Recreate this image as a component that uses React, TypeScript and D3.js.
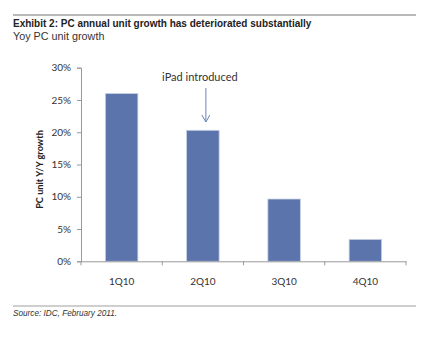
import React, { useEffect, useRef } from "react";
import * as d3 from "d3";

const quarters = ["1Q10", "2Q10", "3Q10", "4Q10"];
const growth = [26.0, 20.3, 9.65, 3.4];
const yTicks = [0, 5, 10, 15, 20, 25, 30];

const W = 427;
const H = 351;

export default function App() {
  const svgRef = useRef<SVGSVGElement>(null);

  useEffect(() => {
    const svg = d3.select(svgRef.current);
    svg.selectAll("*").remove();

    const left = 81;
    const right = 406;
    const top = 67.7;
    const bottom = 261.3;

    const x = d3.scaleBand().domain(quarters).range([left, right]).paddingInner(0.6).paddingOuter(0.3);
    const y = d3.scaleLinear().domain([0, 30]).range([bottom, top]);

    // header rules and titles
    svg.append("line").attr("x1", 13).attr("x2", 416).attr("y1", 15).attr("y2", 15)
      .attr("stroke", "#a0a0a0").attr("stroke-width", 1.5);
    svg.append("text").attr("x", 13).attr("y", 27)
      .attr("font-family", "Liberation Sans, Arial, sans-serif").attr("font-weight", "bold")
      .attr("font-size", 10).attr("fill", "#222")
      .text("Exhibit 2: PC annual unit growth has deteriorated substantially");
    svg.append("text").attr("x", 13).attr("y", 40)
      .attr("font-family", "Liberation Sans, Arial, sans-serif")
      .attr("font-size", 10.8).attr("fill", "#333")
      .text("Yoy PC unit growth");

    // bars
    svg.append("g").selectAll("rect").data(growth).join("rect")
      .attr("x", (_d, i) => x(quarters[i])!)
      .attr("width", x.bandwidth())
      .attr("y", (d) => y(d))
      .attr("height", (d) => bottom - y(d))
      .attr("fill", "#5b74ab")
      .attr("stroke", "#c7d1e6").attr("stroke-width", 0.8);

    // y axis
    const gy = svg.append("g").attr("transform", `translate(${left},0)`)
      .call(d3.axisLeft(y).tickValues(yTicks).tickSize(4).tickFormat((d) => `${d}%`));
    gy.select(".domain").attr("stroke", "#999");
    gy.selectAll(".tick line").attr("stroke", "#999");
    gy.selectAll(".tick text").attr("font-family", "Lato, sans-serif").attr("font-size", 10)
      .attr("fill", "#333").attr("x", -10);

    // x axis
    const gx = svg.append("g").attr("transform", `translate(0,${bottom})`)
      .call(d3.axisBottom(x).tickSize(0).tickSizeOuter(0));
    gx.select(".domain").attr("stroke", "#999");
    gx.selectAll(".tick text").attr("font-family", "Lato, sans-serif").attr("font-size", 10)
      .attr("fill", "#333").attr("dy", "0").attr("y", 24);
    const step = x.step();
    const edges = d3.range(quarters.length + 1).map((i) => left + i * step);
    gx.selectAll(".sep").data(edges).join("line").attr("class", "sep")
      .attr("x1", (d) => d).attr("x2", (d) => d).attr("y1", 0).attr("y2", 4)
      .attr("stroke", "#999");

    // y axis title
    svg.append("text")
      .attr("transform", `translate(43,${(top + bottom) / 2 + 5}) rotate(-90)`)
      .attr("text-anchor", "middle")
      .attr("font-family", "Lato, sans-serif").attr("font-weight", "bold")
      .attr("font-size", 9.2).attr("fill", "#222")
      .text("PC unit Y/Y growth");

    // annotation
    const ax = x("2Q10")! + x.bandwidth() / 2 + 3;
    svg.append("text").attr("x", ax - 6).attr("y", 81).attr("text-anchor", "middle")
      .attr("font-family", "Lato, sans-serif").attr("font-size", 11).attr("fill", "#333")
      .text("iPad introduced");
    svg.append("line").attr("x1", ax).attr("x2", ax).attr("y1", 88).attr("y2", 122)
      .attr("stroke", "#6b84b8").attr("stroke-width", 1);
    svg.append("path").attr("d", `M${ax - 4},${115} L${ax},${122} L${ax + 4},${115}`)
      .attr("fill", "none").attr("stroke", "#6b84b8").attr("stroke-width", 1);

    // footer
    svg.append("line").attr("x1", 13).attr("x2", 416).attr("y1", 306).attr("y2", 306)
      .attr("stroke", "#a0a0a0").attr("stroke-width", 1.2);
    svg.append("text").attr("x", 13).attr("y", 316)
      .attr("font-family", "Liberation Sans, Arial, sans-serif").attr("font-style", "italic")
      .attr("font-size", 8.2).attr("fill", "#333")
      .text("Source: IDC, February 2011.");
  }, []);

  return (
    <svg ref={svgRef} width={W} height={H}
      style={{ position: "absolute", left: 0, top: 0, background: "#fff" }} />
  );
}
